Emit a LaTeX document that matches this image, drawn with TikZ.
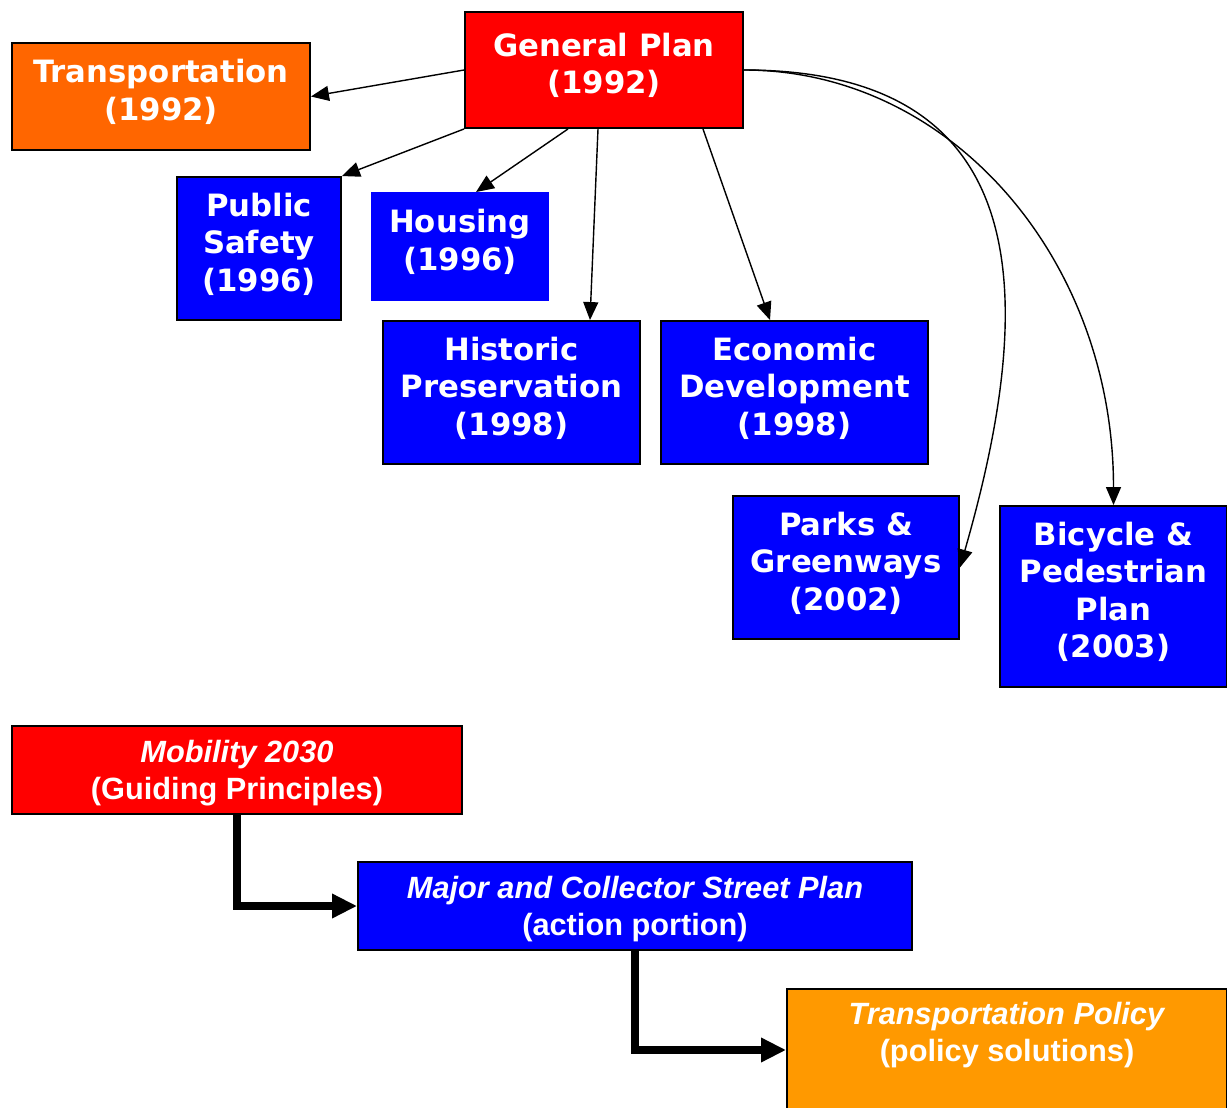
\documentclass[tikz,border=0pt]{standalone}
\usepackage{fontspec}
\newfontfamily\verdana{DejaVu Sans}
\newfontfamily\arial{Liberation Sans}
\usetikzlibrary{arrows.meta}
\definecolor{planred}{HTML}{FF0000}
\definecolor{transorange}{HTML}{FF6600}
\definecolor{topicblue}{HTML}{0000FF}
\definecolor{policyorange}{HTML}{FF9900}

\begin{document}
\begin{tikzpicture}[x=0.02cm, y=-0.02cm,
    box/.style={draw=black, line width=1.1pt, text=white, align=center, inner sep=0pt},
    topbox/.style={box, text depth=0.26cm, font=\verdana\bfseries\fontsize{17.5}{21.3}\selectfont},
    lowbox/.style={box, text depth=0.02cm, font=\arial\bfseries\fontsize{17.5}{21}\selectfont},
    link/.style={-{Triangle[length=0.36cm,width=0.3cm]}, line width=0.8pt},
    bigarrow/.style={-{Triangle[length=0.5cm,width=0.46cm]}, line width=0.16cm}]
                % Page frame
                \useasboundingbox (0,0) rectangle (1227,1108);

                % General plan and its elements
                \node[topbox, fill=planred, minimum width=5.56cm, minimum height=2.32cm] (gp) at (604,70) {General Plan\\(1992)};
                \node[topbox, fill=transorange, minimum width=5.96cm, minimum height=2.14cm] (transp) at (161,96.5) {Transportation\\(1992)};
                \node[topbox, fill=topicblue, minimum width=3.28cm, minimum height=2.86cm] (ps) at (259,248.5) {Public\\Safety\\(1996)};
                \node[topbox, fill=topicblue, draw=topicblue, minimum width=3.52cm, minimum height=2.14cm] (house) at (460,246.5) {Housing\\(1996)};
                \node[topbox, fill=topicblue, minimum width=5.14cm, minimum height=2.86cm] (hist) at (511.5,392.5) {Historic\\Preservation\\(1998)};
                \node[topbox, fill=topicblue, minimum width=5.34cm, minimum height=2.86cm] (econ) at (794.5,392.5) {Economic\\Development\\(1998)};
                \node[topbox, fill=topicblue, minimum width=4.52cm, minimum height=2.86cm] (parks) at (846,567.5) {Parks \&\\Greenways\\(2002)};
                \node[topbox, fill=topicblue, minimum width=4.54cm, minimum height=3.62cm] (bike) at (1113.5,596.5) {Bicycle \&\\Pedestrian\\Plan\\(2003)};

                % Arrows from the general plan
                \draw[link] (gp.west) -- (transp.east);
                \draw[link] (gp.south west) -- (ps.north east);
                \draw[link] ([xshift=-0.72cm]gp.south) -- ([xshift=0.32cm]house.north);
                \draw[link] ([xshift=-0.12cm]gp.south) -- ([xshift=1.57cm]hist.north);
                \draw[link] ([xshift=1.98cm]gp.south) -- ([xshift=-0.49cm]econ.north);
                \draw[link] (gp.east) .. controls +(307,0) and +(71,-247) .. (parks.east);
                \draw[link] (gp.east) .. controls +(207,0) and +(0,-246) .. (bike.north);

                % Mobility chain
                \node[lowbox, fill=planred, minimum width=9cm, minimum height=1.76cm] (mob) at (237,770) {\textit{Mobility 2030}\\(Guiding Principles)};
                \node[lowbox, fill=topicblue, minimum width=11.08cm, minimum height=1.76cm] (major) at (635,906) {\textit{Major and Collector Street Plan}\\(action portion)};
                \node[lowbox, fill=policyorange, minimum width=8.8cm, inner ysep=0.26cm, text depth=2.5cm, anchor=north] (policy) at (1007,988) {\textit{Transportation Policy}\\(policy solutions)};

                \draw[bigarrow] (mob.south) |- (major.west);
                \draw[bigarrow] (major.south) |- ([yshift=-1.24cm]policy.north west);
            \end{tikzpicture}
\end{document}
